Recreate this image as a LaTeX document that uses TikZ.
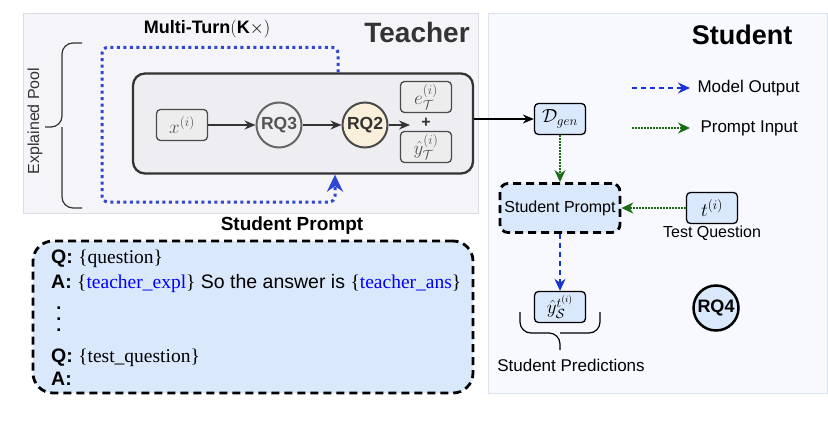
\RequirePackage{fix-cm}
\documentclass[tikz,border=0pt]{standalone}
\usepackage{amsmath}
\usepackage{fontspec}
\setmainfont{Liberation Sans}
\newfontfamily\phfont{Liberation Serif}
\usepackage{tikz}
\usetikzlibrary{arrows.meta}

\definecolor{teachbg}{HTML}{F5F4F8}
\definecolor{teachedge}{HTML}{DDDCE2}
\definecolor{studbg}{HTML}{F7F9FE}
\definecolor{studedge}{HTML}{DCE3EF}
\definecolor{innerbg}{HTML}{EEEDF1}
\definecolor{darkedge}{HTML}{333333}
\definecolor{graybg}{HTML}{EDEDEE}
\definecolor{boxgray}{HTML}{4A4A4A}
\definecolor{labelgray}{HTML}{555555}
\definecolor{rqgray}{HTML}{666666}
\definecolor{rqfill}{HTML}{EFEFF1}
\definecolor{cream}{HTML}{F9EFDA}
\definecolor{lightblue}{HTML}{DAE8FC}
\definecolor{loopblue}{HTML}{2F47CE}
\definecolor{outblue}{HTML}{1733D3}
\definecolor{ingreen}{HTML}{1B6B12}
\newcommand{\setfs}[1]{\fontsize{#1}{#1}\selectfont}

\begin{document}
\begin{tikzpicture}[x=1pt,y=-1pt,
		box/.style={draw=black,line width=1.3pt,rounded corners=4pt,fill=lightblue,minimum width=51pt,minimum height=31pt,inner sep=0pt,font=\setfs{19}},
		graybox/.style={box,draw=boxgray,fill=graybg,text=labelgray},
		rq/.style={circle,draw,line width=2pt,minimum size=45pt,inner sep=0pt,font=\setfs{17.5}\bfseries},
		arr/.style={draw=darkedge,line width=1.3pt,-{Stealth[length=11pt,width=9pt]}},
		outarrow/.style={draw=outblue,line width=1.4pt,dash pattern=on 5pt off 4pt,-{Stealth[length=12pt,width=11pt]}},
		inarrow/.style={draw=ingreen,line width=1.4pt,dash pattern=on 1.5pt off 1.5pt,-{Stealth[length=12pt,width=11pt]}},
		loopline/.style={draw=loopblue,line width=3pt,dash pattern=on 3pt off 3.5pt,rounded corners=6pt,-{Stealth[length=17pt,width=16pt]}},
		dashbox/.style={draw=black,line width=2.8pt,dash pattern=on 8pt off 5pt,fill=lightblue},
		bracestyle/.style={line width=1.2pt,rounded corners=11pt},
		ptext/.style={anchor=base west,inner sep=0pt,font=\setfs{19.5}}]
	\useasboundingbox (0,0) rectangle (828,439);
	
	% panels
	\draw[draw=teachedge,fill=teachbg,line width=0.8pt] (23,13) rectangle (478,213);
	\draw[draw=studedge,fill=studbg,line width=0.8pt] (488,13) rectangle (827,393);
	
	\node[font=\setfs{28}\bfseries,text=darkedge] (teachtitle) at (417,32) {Teacher};
	\node[font=\setfs{27}\bfseries] (studtitle) at (742,35) {Student};
	\node[font=\setfs{18}\bfseries] (multi) at (207,29) {Multi-Turn$(\mathbf{K}\times)$};
	
	% teacher
	\node[draw=darkedge,fill=innerbg,line width=2.3pt,rounded corners=12pt,minimum width=340pt,minimum height=100pt] (teach) at (303,123.5) {};
	\node[graybox] (x) at (182,125) {$x^{(i)}$};
	\node[rq,draw=rqgray,fill=rqfill,text=labelgray] (rq3) at (279,125) {RQ3};
	\node[rq,draw=boxgray,fill=cream,text=darkedge] (rq2) at (365,125) {RQ2};
	\node[font=\setfs{16}\bfseries,text=darkedge] (plus) at (426,123) {+};
	\node[graybox] (eT) at (426,97) {$e_{\mathcal{T}}^{(i)}$};
	\node[graybox] (yT) at (426,147) {$\hat{y}_{\mathcal{T}}^{(i)}$};
	\coordinate (genin) at (410,125);
	
	\draw[arr] (x) -- (rq3);
	\draw[arr] (rq3) -- (rq2);
	\draw[arr] (rq2) -- (genin);
	
	\draw[loopline] ([xshift=35pt]teach.north) -- ++(0,-25) -| (102,202) -| ([xshift=32pt]teach.south);
	
	\draw[bracestyle,draw=darkedge] (82,43) -| (62,127) -- (45,127);
	\draw[bracestyle,draw=darkedge] (82,208) -| (62,127);
	\node[rotate=90,font=\setfs{16},text=darkedge] (pool) at (35,121) {Explained Pool};
	
	% student
	\node[box] (dgen) at (560,119) {$\mathcal{D}_{gen}$};
	\draw[arr,draw=black] (dgen -| teach.east) -- (dgen.west);
	
	\node[dashbox,rounded corners=8pt,minimum width=120pt,minimum height=49pt,font=\setfs{16}] (sp) at (560,208) {Student Prompt};
	\node[box] (tq) at (712,208) {$t^{(i)}$};
	\node[font=\setfs{16}] (tqlabel) at (712,233) {Test Question};
	\node[box] (ys) at (560,307) {$\hat{y}_{\mathcal{S}}^{t^{(i)}}$};
	
	\draw[inarrow] (dgen) -- (sp);
	\draw[inarrow] (tq) -- (sp);
	\draw[outarrow] (sp) -- (ys);
	
	\draw[bracestyle] (520,312) |- (560,333) -- (560,350);
	\draw[bracestyle] (600,312) |- (560,333);
	\node[font=\setfs{17}] (spred) at (571,365) {Student Predictions};
	
	\node[rq,draw=black,fill=lightblue,line width=2.5pt,font=\setfs{18}\bfseries] (rq4) at (716,308) {RQ4};
	
	% legend
	\node[font=\setfs{17},anchor=west] (lmodel) at (694,88) {Model Output};
	\node[font=\setfs{17},anchor=west] (lprompt) at (697,128) {Prompt Input};
	\coordinate (lmodelstart) at (632,88);
	\coordinate (lpromptstart) at (632,128);
	\draw[outarrow] (lmodelstart) -- ([xshift=-4pt]lmodel.west);
	\draw[inarrow] (lpromptstart) -- ([xshift=-7pt]lprompt.west);
	
	% prompt template
	\node[font=\setfs{19}\bfseries] (sphead) at (292,226) {Student Prompt};
	\node[dashbox,rounded corners=20pt,minimum width=440pt,minimum height=152pt] (prompt) at (253,317) {};
	\node[ptext] (q1) at (51,263) {\textbf{Q:} {\phfont\{question\}}};
	\node[ptext] (a1) at (51,288) {\textbf{A:} {\phfont\{\textcolor{blue}{teacher\_expl}\}} So the answer is {\phfont\{\textcolor{blue}{teacher\_ans}\}}};
	\node[font=\setfs{18}\bfseries,align=center,inner sep=0pt] (dots) at (59,319) {.\\[-7pt].\\[-7pt].};
	\node[ptext] (q2) at (51,362) {\textbf{Q:} {\phfont\{test\_question\}}};
	\node[ptext] (a2) at (51,385) {\textbf{A:}};
\end{tikzpicture}
\end{document}
